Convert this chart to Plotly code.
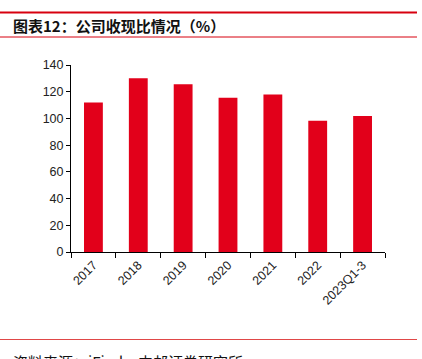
import plotly.graph_objects as go

categories = ["2017", "2018", "2019", "2020", "2021", "2022", "2023Q1-3"]
values = [112, 130, 125.5, 115.5, 118, 98.3, 101.8]
y_ticks = [0, 20, 40, 60, 80, 100, 120, 140]

W, H = 422, 359
L, R, T, B = 71, 37, 65, 107
ph = H - T - B
pw = W - L - R

def py(y):
    return (H - B - y) / ph

def px(x):
    return (x - L) / pw

fig = go.Figure(go.Bar(x=categories, y=values, marker=dict(color="#E2001A", line=dict(width=0)), width=0.42))

fig.update_layout(
    width=W, height=H,
    margin=dict(l=L, r=R, t=T, b=B),
    plot_bgcolor="white", paper_bgcolor="white",
    showlegend=False,
    font=dict(family="Liberation Sans, Arial", size=12, color="#222"),
    xaxis=dict(showline=True, linecolor="black", linewidth=1, ticks="outside", ticklen=5,
               tickcolor="black", tickangle=-45, showgrid=False, tickson="boundaries",
               tickfont=dict(size=12.5, color="#222")),
    yaxis=dict(range=[0, 140], tickvals=y_ticks, showline=True, linecolor="black", linewidth=1,
               ticks="outside", ticklen=4, tickcolor="black", showgrid=False, zeroline=False,
               tickfont=dict(size=12.5, color="#222")),
    shapes=[
        dict(type="line", xref="paper", yref="paper", x0=px(0), x1=px(417), y0=py(12.5), y1=py(12.5),
             line=dict(color="#D7000F", width=2)),
        dict(type="line", xref="paper", yref="paper", x0=px(0), x1=px(417), y0=py(37), y1=py(37),
             line=dict(color="#D7000F", width=1)),
        dict(type="line", xref="paper", yref="paper", x0=px(0), x1=px(417), y0=py(339.5), y1=py(339.5),
             line=dict(color="#E04848", width=1.2)),
    ],
    annotations=[
        dict(text="<b>图表12：公司收现比情况（%）</b>", xref="paper", yref="paper", x=px(11), y=py(25),
             xanchor="left", yanchor="middle", showarrow=False,
             font=dict(family="Noto Sans CJK SC", size=15, color="#111")),
        dict(text="资料来源：iFind，中邮证券研究所", xref="paper", yref="paper", x=px(11), y=py(349),
             xanchor="left", yanchor="top", showarrow=False,
             font=dict(family="Noto Sans CJK SC", size=15, color="#111")),
    ],
)

fig.write_html("out.html", config={"displayModeBar": False},
               post_script="document.body.style.margin='0';document.body.style.overflow='hidden';")
